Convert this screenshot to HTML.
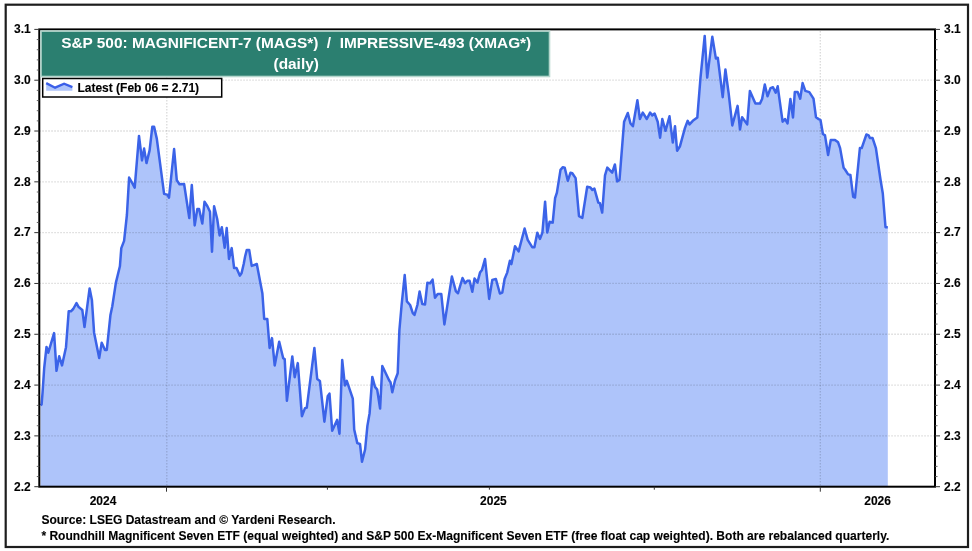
<!DOCTYPE html>
<html><head><meta charset="utf-8"><style>
html,body{margin:0;padding:0;background:#fff;width:972px;height:551px;overflow:hidden;position:relative}
svg{will-change:transform}
text{font-family:"Liberation Sans",sans-serif;font-weight:bold;white-space:pre}
.ax{font-size:12px;fill:#000;stroke:#000;stroke-width:0.12px}
.ti{font-size:15.4px;fill:#fff}
.lg{font-size:12px;fill:#000;stroke:#000;stroke-width:0.12px}
.ft{font-size:12.04px;fill:#000;stroke:#000;stroke-width:0.12px}
</style></head><body>
<svg width="972" height="551" viewBox="0 0 972 551" style="position:absolute;left:0;top:0">
<rect x="5.7" y="4.7" width="962.3" height="542.3" fill="none" stroke="#1e1e1e" stroke-width="2.2"/>
<path d="M40.5,486.7 L40.5,405.3 L41.6,404.5 L42.6,392.0 L44.2,368.0 L46.5,346.9 L48.3,352.7 L54.1,333.1 L56.5,370.8 L59.2,356.3 L62.0,365.4 L66.0,347.2 L68.7,311.3 L70.9,311.3 L73.2,309.0 L76.5,303.1 L78.7,307.1 L82.3,309.9 L84.5,327.1 L89.6,288.4 L91.9,299.9 L94.1,332.7 L99.2,358.1 L101.7,342.7 L105.0,349.9 L106.8,349.9 L110.4,315.3 L112.3,306.2 L115.9,282.6 L119.9,266.3 L121.3,248.1 L124.1,240.9 L126.9,215.0 L129.1,177.6 L132.3,183.1 L134.7,187.6 L139.0,135.9 L142.0,160.4 L144.1,148.6 L146.5,163.1 L149.6,150.4 L152.3,126.8 L154.1,126.8 L156.8,138.6 L164.1,193.9 L167.7,194.9 L169.0,197.6 L174.1,149.1 L176.8,180.3 L179.5,184.3 L184.1,184.0 L189.3,218.1 L191.8,185.0 L194.7,225.4 L197.3,209.1 L199.1,209.1 L202.3,223.6 L204.5,201.8 L207.4,206.3 L210.0,211.8 L212.0,251.7 L214.1,206.3 L217.2,219.0 L219.6,235.4 L221.8,227.2 L224.7,247.7 L226.7,228.1 L229.0,259.0 L231.7,248.1 L234.1,268.0 L236.5,268.0 L239.9,275.7 L241.6,273.0 L243.7,264.0 L245.1,256.5 L246.8,249.9 L249.2,249.9 L251.7,265.9 L256.8,264.0 L262.4,293.6 L264.2,319.0 L267.3,319.0 L269.6,348.0 L272.0,338.1 L274.7,365.4 L279.2,341.7 L283.2,358.2 L284.7,359.1 L286.9,400.8 L292.3,356.4 L294.7,377.2 L297.8,363.1 L301.9,416.2 L305.0,408.1 L306.8,407.7 L314.4,348.0 L317.2,379.0 L319.9,380.9 L324.4,421.7 L327.7,396.3 L329.5,393.6 L332.2,430.8 L337.1,419.9 L339.5,433.8 L342.2,360.0 L344.9,385.4 L346.8,380.9 L352.8,398.6 L354.2,429.5 L357.3,443.1 L360.0,444.0 L362.0,461.8 L365.1,449.5 L367.4,425.9 L369.6,413.2 L372.3,376.9 L375.0,386.9 L377.2,389.6 L380.1,408.6 L382.3,366.0 L389.2,380.5 L390.5,382.3 L392.3,392.3 L395.0,380.5 L397.7,373.3 L399.4,330.0 L401.6,305.0 L404.7,275.1 L406.9,301.4 L410.1,305.0 L412.8,313.2 L414.5,315.0 L417.4,305.0 L419.6,291.4 L422.3,304.1 L425.0,304.5 L427.4,282.7 L430.1,283.2 L432.6,279.6 L435.0,297.8 L437.7,294.1 L441.3,294.1 L444.4,324.4 L451.9,276.5 L455.9,291.4 L458.0,293.2 L462.5,278.0 L465.1,283.1 L467.3,280.8 L469.6,280.8 L472.3,291.7 L474.5,278.6 L477.4,282.6 L480.0,272.6 L482.0,269.9 L485.0,259.0 L489.2,298.9 L492.3,279.9 L495.9,279.0 L499.9,293.5 L502.3,292.6 L504.6,279.0 L507.2,272.6 L509.9,260.8 L511.4,264.1 L515.0,246.3 L518.6,251.4 L524.6,228.5 L527.7,239.9 L532.2,247.2 L534.4,247.2 L537.3,232.7 L540.0,238.9 L542.4,232.6 L545.1,201.7 L547.3,232.6 L549.6,221.7 L552.7,222.6 L555.1,198.1 L556.9,192.6 L560.5,169.9 L562.9,167.2 L564.7,167.6 L567.8,180.8 L570.5,172.7 L572.3,173.2 L575.6,178.1 L579.0,216.2 L582.3,218.0 L587.2,186.8 L590.4,187.5 L592.3,189.9 L594.4,188.6 L598.3,202.6 L599.9,203.2 L602.2,212.6 L605.0,175.4 L607.3,167.6 L612.2,172.7 L614.9,164.5 L617.1,181.4 L619.5,179.9 L624.1,121.7 L627.8,113.0 L630.5,123.5 L632.9,126.2 L637.4,100.3 L639.9,119.0 L642.8,112.6 L646.8,119.0 L650.1,112.6 L652.3,115.4 L654.6,113.5 L657.7,121.7 L660.1,137.7 L662.3,119.0 L665.5,130.8 L669.5,116.3 L672.8,142.6 L675.0,126.2 L677.1,150.7 L680.0,146.2 L684.9,128.1 L687.7,120.8 L689.5,124.4 L692.8,120.8 L697.3,117.6 L700.5,77.6 L704.7,35.9 L707.2,77.6 L712.3,36.8 L715.9,58.6 L717.8,57.7 L720.5,79.4 L722.7,97.2 L725.4,69.5 L728.7,93.6 L732.3,125.4 L737.6,105.9 L740.0,129.5 L742.1,117.2 L747.2,124.4 L749.9,90.9 L755.4,103.6 L759.9,103.6 L762.1,99.0 L764.8,84.5 L767.5,96.3 L770.5,88.1 L773.0,87.2 L775.7,92.7 L777.7,86.3 L782.6,121.7 L785.0,119.0 L787.5,123.5 L790.4,99.0 L793.0,117.5 L794.8,92.1 L797.7,92.1 L800.2,98.7 L802.6,83.1 L805.3,90.9 L809.3,92.1 L813.5,98.7 L816.0,117.3 L818.7,119.1 L820.5,120.0 L822.9,134.0 L825.0,135.4 L828.1,155.0 L830.8,139.9 L835.0,139.9 L838.1,142.3 L840.1,148.1 L843.6,167.7 L845.0,169.5 L848.1,174.4 L850.4,175.0 L853.2,196.8 L855.0,197.5 L859.9,148.1 L861.7,148.1 L866.4,134.5 L868.6,135.4 L870.0,138.1 L872.6,138.1 L875.9,148.1 L880.4,179.0 L882.8,193.5 L885.5,227.2 L887.8,227.2 L887.8,486.7 Z" fill="#aec4fa" stroke="none"/>
<line x1="39.3" y1="80.21" x2="935.0" y2="80.21" stroke="#000" stroke-opacity="0.15" stroke-width="1.3" stroke-dasharray="1.5,1.5"/>
<line x1="39.3" y1="131.02" x2="935.0" y2="131.02" stroke="#000" stroke-opacity="0.15" stroke-width="1.3" stroke-dasharray="1.5,1.5"/>
<line x1="39.3" y1="181.83" x2="935.0" y2="181.83" stroke="#000" stroke-opacity="0.15" stroke-width="1.3" stroke-dasharray="1.5,1.5"/>
<line x1="39.3" y1="232.64" x2="935.0" y2="232.64" stroke="#000" stroke-opacity="0.15" stroke-width="1.3" stroke-dasharray="1.5,1.5"/>
<line x1="39.3" y1="283.46" x2="935.0" y2="283.46" stroke="#000" stroke-opacity="0.15" stroke-width="1.3" stroke-dasharray="1.5,1.5"/>
<line x1="39.3" y1="334.27" x2="935.0" y2="334.27" stroke="#000" stroke-opacity="0.15" stroke-width="1.3" stroke-dasharray="1.5,1.5"/>
<line x1="39.3" y1="385.08" x2="935.0" y2="385.08" stroke="#000" stroke-opacity="0.15" stroke-width="1.3" stroke-dasharray="1.5,1.5"/>
<line x1="39.3" y1="435.89" x2="935.0" y2="435.89" stroke="#000" stroke-opacity="0.15" stroke-width="1.3" stroke-dasharray="1.5,1.5"/>
<line x1="166.8" y1="31" x2="166.8" y2="486.7" stroke="#000" stroke-opacity="0.15" stroke-width="1.3" stroke-dasharray="1.5,1.5"/>
<line x1="820.3" y1="31" x2="820.3" y2="486.7" stroke="#000" stroke-opacity="0.15" stroke-width="1.3" stroke-dasharray="1.5,1.5"/>
<path d="M40.5,405.3 L41.6,404.5 L42.6,392.0 L44.2,368.0 L46.5,346.9 L48.3,352.7 L54.1,333.1 L56.5,370.8 L59.2,356.3 L62.0,365.4 L66.0,347.2 L68.7,311.3 L70.9,311.3 L73.2,309.0 L76.5,303.1 L78.7,307.1 L82.3,309.9 L84.5,327.1 L89.6,288.4 L91.9,299.9 L94.1,332.7 L99.2,358.1 L101.7,342.7 L105.0,349.9 L106.8,349.9 L110.4,315.3 L112.3,306.2 L115.9,282.6 L119.9,266.3 L121.3,248.1 L124.1,240.9 L126.9,215.0 L129.1,177.6 L132.3,183.1 L134.7,187.6 L139.0,135.9 L142.0,160.4 L144.1,148.6 L146.5,163.1 L149.6,150.4 L152.3,126.8 L154.1,126.8 L156.8,138.6 L164.1,193.9 L167.7,194.9 L169.0,197.6 L174.1,149.1 L176.8,180.3 L179.5,184.3 L184.1,184.0 L189.3,218.1 L191.8,185.0 L194.7,225.4 L197.3,209.1 L199.1,209.1 L202.3,223.6 L204.5,201.8 L207.4,206.3 L210.0,211.8 L212.0,251.7 L214.1,206.3 L217.2,219.0 L219.6,235.4 L221.8,227.2 L224.7,247.7 L226.7,228.1 L229.0,259.0 L231.7,248.1 L234.1,268.0 L236.5,268.0 L239.9,275.7 L241.6,273.0 L243.7,264.0 L245.1,256.5 L246.8,249.9 L249.2,249.9 L251.7,265.9 L256.8,264.0 L262.4,293.6 L264.2,319.0 L267.3,319.0 L269.6,348.0 L272.0,338.1 L274.7,365.4 L279.2,341.7 L283.2,358.2 L284.7,359.1 L286.9,400.8 L292.3,356.4 L294.7,377.2 L297.8,363.1 L301.9,416.2 L305.0,408.1 L306.8,407.7 L314.4,348.0 L317.2,379.0 L319.9,380.9 L324.4,421.7 L327.7,396.3 L329.5,393.6 L332.2,430.8 L337.1,419.9 L339.5,433.8 L342.2,360.0 L344.9,385.4 L346.8,380.9 L352.8,398.6 L354.2,429.5 L357.3,443.1 L360.0,444.0 L362.0,461.8 L365.1,449.5 L367.4,425.9 L369.6,413.2 L372.3,376.9 L375.0,386.9 L377.2,389.6 L380.1,408.6 L382.3,366.0 L389.2,380.5 L390.5,382.3 L392.3,392.3 L395.0,380.5 L397.7,373.3 L399.4,330.0 L401.6,305.0 L404.7,275.1 L406.9,301.4 L410.1,305.0 L412.8,313.2 L414.5,315.0 L417.4,305.0 L419.6,291.4 L422.3,304.1 L425.0,304.5 L427.4,282.7 L430.1,283.2 L432.6,279.6 L435.0,297.8 L437.7,294.1 L441.3,294.1 L444.4,324.4 L451.9,276.5 L455.9,291.4 L458.0,293.2 L462.5,278.0 L465.1,283.1 L467.3,280.8 L469.6,280.8 L472.3,291.7 L474.5,278.6 L477.4,282.6 L480.0,272.6 L482.0,269.9 L485.0,259.0 L489.2,298.9 L492.3,279.9 L495.9,279.0 L499.9,293.5 L502.3,292.6 L504.6,279.0 L507.2,272.6 L509.9,260.8 L511.4,264.1 L515.0,246.3 L518.6,251.4 L524.6,228.5 L527.7,239.9 L532.2,247.2 L534.4,247.2 L537.3,232.7 L540.0,238.9 L542.4,232.6 L545.1,201.7 L547.3,232.6 L549.6,221.7 L552.7,222.6 L555.1,198.1 L556.9,192.6 L560.5,169.9 L562.9,167.2 L564.7,167.6 L567.8,180.8 L570.5,172.7 L572.3,173.2 L575.6,178.1 L579.0,216.2 L582.3,218.0 L587.2,186.8 L590.4,187.5 L592.3,189.9 L594.4,188.6 L598.3,202.6 L599.9,203.2 L602.2,212.6 L605.0,175.4 L607.3,167.6 L612.2,172.7 L614.9,164.5 L617.1,181.4 L619.5,179.9 L624.1,121.7 L627.8,113.0 L630.5,123.5 L632.9,126.2 L637.4,100.3 L639.9,119.0 L642.8,112.6 L646.8,119.0 L650.1,112.6 L652.3,115.4 L654.6,113.5 L657.7,121.7 L660.1,137.7 L662.3,119.0 L665.5,130.8 L669.5,116.3 L672.8,142.6 L675.0,126.2 L677.1,150.7 L680.0,146.2 L684.9,128.1 L687.7,120.8 L689.5,124.4 L692.8,120.8 L697.3,117.6 L700.5,77.6 L704.7,35.9 L707.2,77.6 L712.3,36.8 L715.9,58.6 L717.8,57.7 L720.5,79.4 L722.7,97.2 L725.4,69.5 L728.7,93.6 L732.3,125.4 L737.6,105.9 L740.0,129.5 L742.1,117.2 L747.2,124.4 L749.9,90.9 L755.4,103.6 L759.9,103.6 L762.1,99.0 L764.8,84.5 L767.5,96.3 L770.5,88.1 L773.0,87.2 L775.7,92.7 L777.7,86.3 L782.6,121.7 L785.0,119.0 L787.5,123.5 L790.4,99.0 L793.0,117.5 L794.8,92.1 L797.7,92.1 L800.2,98.7 L802.6,83.1 L805.3,90.9 L809.3,92.1 L813.5,98.7 L816.0,117.3 L818.7,119.1 L820.5,120.0 L822.9,134.0 L825.0,135.4 L828.1,155.0 L830.8,139.9 L835.0,139.9 L838.1,142.3 L840.1,148.1 L843.6,167.7 L845.0,169.5 L848.1,174.4 L850.4,175.0 L853.2,196.8 L855.0,197.5 L859.9,148.1 L861.7,148.1 L866.4,134.5 L868.6,135.4 L870.0,138.1 L872.6,138.1 L875.9,148.1 L880.4,179.0 L882.8,193.5 L885.5,227.2 L887.8,227.2" fill="none" stroke="#3b63e8" stroke-width="2.5" stroke-linejoin="round"/>
<rect x="39.3" y="29.4" width="895.7" height="457.3" fill="none" stroke="#000" stroke-width="2"/>
<line x1="34.3" y1="29.40" x2="39.3" y2="29.40" stroke="#333" stroke-width="1"/>
<line x1="935.0" y1="29.40" x2="940.0" y2="29.40" stroke="#333" stroke-width="1"/>
<line x1="36.8" y1="39.56" x2="39.3" y2="39.56" stroke="#555" stroke-width="0.9"/>
<line x1="935.0" y1="39.56" x2="937.5" y2="39.56" stroke="#555" stroke-width="0.9"/>
<line x1="36.8" y1="49.72" x2="39.3" y2="49.72" stroke="#555" stroke-width="0.9"/>
<line x1="935.0" y1="49.72" x2="937.5" y2="49.72" stroke="#555" stroke-width="0.9"/>
<line x1="36.8" y1="59.89" x2="39.3" y2="59.89" stroke="#555" stroke-width="0.9"/>
<line x1="935.0" y1="59.89" x2="937.5" y2="59.89" stroke="#555" stroke-width="0.9"/>
<line x1="36.8" y1="70.05" x2="39.3" y2="70.05" stroke="#555" stroke-width="0.9"/>
<line x1="935.0" y1="70.05" x2="937.5" y2="70.05" stroke="#555" stroke-width="0.9"/>
<text x="30.8" y="33.20" text-anchor="end" class="ax">3.1</text>
<text x="944" y="33.20" class="ax">3.1</text>
<line x1="34.3" y1="80.21" x2="39.3" y2="80.21" stroke="#333" stroke-width="1"/>
<line x1="935.0" y1="80.21" x2="940.0" y2="80.21" stroke="#333" stroke-width="1"/>
<line x1="36.8" y1="90.37" x2="39.3" y2="90.37" stroke="#555" stroke-width="0.9"/>
<line x1="935.0" y1="90.37" x2="937.5" y2="90.37" stroke="#555" stroke-width="0.9"/>
<line x1="36.8" y1="100.54" x2="39.3" y2="100.54" stroke="#555" stroke-width="0.9"/>
<line x1="935.0" y1="100.54" x2="937.5" y2="100.54" stroke="#555" stroke-width="0.9"/>
<line x1="36.8" y1="110.70" x2="39.3" y2="110.70" stroke="#555" stroke-width="0.9"/>
<line x1="935.0" y1="110.70" x2="937.5" y2="110.70" stroke="#555" stroke-width="0.9"/>
<line x1="36.8" y1="120.86" x2="39.3" y2="120.86" stroke="#555" stroke-width="0.9"/>
<line x1="935.0" y1="120.86" x2="937.5" y2="120.86" stroke="#555" stroke-width="0.9"/>
<text x="30.8" y="84.01" text-anchor="end" class="ax">3.0</text>
<text x="944" y="84.01" class="ax">3.0</text>
<line x1="34.3" y1="131.02" x2="39.3" y2="131.02" stroke="#333" stroke-width="1"/>
<line x1="935.0" y1="131.02" x2="940.0" y2="131.02" stroke="#333" stroke-width="1"/>
<line x1="36.8" y1="141.18" x2="39.3" y2="141.18" stroke="#555" stroke-width="0.9"/>
<line x1="935.0" y1="141.18" x2="937.5" y2="141.18" stroke="#555" stroke-width="0.9"/>
<line x1="36.8" y1="151.35" x2="39.3" y2="151.35" stroke="#555" stroke-width="0.9"/>
<line x1="935.0" y1="151.35" x2="937.5" y2="151.35" stroke="#555" stroke-width="0.9"/>
<line x1="36.8" y1="161.51" x2="39.3" y2="161.51" stroke="#555" stroke-width="0.9"/>
<line x1="935.0" y1="161.51" x2="937.5" y2="161.51" stroke="#555" stroke-width="0.9"/>
<line x1="36.8" y1="171.67" x2="39.3" y2="171.67" stroke="#555" stroke-width="0.9"/>
<line x1="935.0" y1="171.67" x2="937.5" y2="171.67" stroke="#555" stroke-width="0.9"/>
<text x="30.8" y="134.82" text-anchor="end" class="ax">2.9</text>
<text x="944" y="134.82" class="ax">2.9</text>
<line x1="34.3" y1="181.83" x2="39.3" y2="181.83" stroke="#333" stroke-width="1"/>
<line x1="935.0" y1="181.83" x2="940.0" y2="181.83" stroke="#333" stroke-width="1"/>
<line x1="36.8" y1="192.00" x2="39.3" y2="192.00" stroke="#555" stroke-width="0.9"/>
<line x1="935.0" y1="192.00" x2="937.5" y2="192.00" stroke="#555" stroke-width="0.9"/>
<line x1="36.8" y1="202.16" x2="39.3" y2="202.16" stroke="#555" stroke-width="0.9"/>
<line x1="935.0" y1="202.16" x2="937.5" y2="202.16" stroke="#555" stroke-width="0.9"/>
<line x1="36.8" y1="212.32" x2="39.3" y2="212.32" stroke="#555" stroke-width="0.9"/>
<line x1="935.0" y1="212.32" x2="937.5" y2="212.32" stroke="#555" stroke-width="0.9"/>
<line x1="36.8" y1="222.48" x2="39.3" y2="222.48" stroke="#555" stroke-width="0.9"/>
<line x1="935.0" y1="222.48" x2="937.5" y2="222.48" stroke="#555" stroke-width="0.9"/>
<text x="30.8" y="185.63" text-anchor="end" class="ax">2.8</text>
<text x="944" y="185.63" class="ax">2.8</text>
<line x1="34.3" y1="232.64" x2="39.3" y2="232.64" stroke="#333" stroke-width="1"/>
<line x1="935.0" y1="232.64" x2="940.0" y2="232.64" stroke="#333" stroke-width="1"/>
<line x1="36.8" y1="242.81" x2="39.3" y2="242.81" stroke="#555" stroke-width="0.9"/>
<line x1="935.0" y1="242.81" x2="937.5" y2="242.81" stroke="#555" stroke-width="0.9"/>
<line x1="36.8" y1="252.97" x2="39.3" y2="252.97" stroke="#555" stroke-width="0.9"/>
<line x1="935.0" y1="252.97" x2="937.5" y2="252.97" stroke="#555" stroke-width="0.9"/>
<line x1="36.8" y1="263.13" x2="39.3" y2="263.13" stroke="#555" stroke-width="0.9"/>
<line x1="935.0" y1="263.13" x2="937.5" y2="263.13" stroke="#555" stroke-width="0.9"/>
<line x1="36.8" y1="273.29" x2="39.3" y2="273.29" stroke="#555" stroke-width="0.9"/>
<line x1="935.0" y1="273.29" x2="937.5" y2="273.29" stroke="#555" stroke-width="0.9"/>
<text x="30.8" y="236.44" text-anchor="end" class="ax">2.7</text>
<text x="944" y="236.44" class="ax">2.7</text>
<line x1="34.3" y1="283.46" x2="39.3" y2="283.46" stroke="#333" stroke-width="1"/>
<line x1="935.0" y1="283.46" x2="940.0" y2="283.46" stroke="#333" stroke-width="1"/>
<line x1="36.8" y1="293.62" x2="39.3" y2="293.62" stroke="#555" stroke-width="0.9"/>
<line x1="935.0" y1="293.62" x2="937.5" y2="293.62" stroke="#555" stroke-width="0.9"/>
<line x1="36.8" y1="303.78" x2="39.3" y2="303.78" stroke="#555" stroke-width="0.9"/>
<line x1="935.0" y1="303.78" x2="937.5" y2="303.78" stroke="#555" stroke-width="0.9"/>
<line x1="36.8" y1="313.94" x2="39.3" y2="313.94" stroke="#555" stroke-width="0.9"/>
<line x1="935.0" y1="313.94" x2="937.5" y2="313.94" stroke="#555" stroke-width="0.9"/>
<line x1="36.8" y1="324.10" x2="39.3" y2="324.10" stroke="#555" stroke-width="0.9"/>
<line x1="935.0" y1="324.10" x2="937.5" y2="324.10" stroke="#555" stroke-width="0.9"/>
<text x="30.8" y="287.26" text-anchor="end" class="ax">2.6</text>
<text x="944" y="287.26" class="ax">2.6</text>
<line x1="34.3" y1="334.27" x2="39.3" y2="334.27" stroke="#333" stroke-width="1"/>
<line x1="935.0" y1="334.27" x2="940.0" y2="334.27" stroke="#333" stroke-width="1"/>
<line x1="36.8" y1="344.43" x2="39.3" y2="344.43" stroke="#555" stroke-width="0.9"/>
<line x1="935.0" y1="344.43" x2="937.5" y2="344.43" stroke="#555" stroke-width="0.9"/>
<line x1="36.8" y1="354.59" x2="39.3" y2="354.59" stroke="#555" stroke-width="0.9"/>
<line x1="935.0" y1="354.59" x2="937.5" y2="354.59" stroke="#555" stroke-width="0.9"/>
<line x1="36.8" y1="364.75" x2="39.3" y2="364.75" stroke="#555" stroke-width="0.9"/>
<line x1="935.0" y1="364.75" x2="937.5" y2="364.75" stroke="#555" stroke-width="0.9"/>
<line x1="36.8" y1="374.92" x2="39.3" y2="374.92" stroke="#555" stroke-width="0.9"/>
<line x1="935.0" y1="374.92" x2="937.5" y2="374.92" stroke="#555" stroke-width="0.9"/>
<text x="30.8" y="338.07" text-anchor="end" class="ax">2.5</text>
<text x="944" y="338.07" class="ax">2.5</text>
<line x1="34.3" y1="385.08" x2="39.3" y2="385.08" stroke="#333" stroke-width="1"/>
<line x1="935.0" y1="385.08" x2="940.0" y2="385.08" stroke="#333" stroke-width="1"/>
<line x1="36.8" y1="395.24" x2="39.3" y2="395.24" stroke="#555" stroke-width="0.9"/>
<line x1="935.0" y1="395.24" x2="937.5" y2="395.24" stroke="#555" stroke-width="0.9"/>
<line x1="36.8" y1="405.40" x2="39.3" y2="405.40" stroke="#555" stroke-width="0.9"/>
<line x1="935.0" y1="405.40" x2="937.5" y2="405.40" stroke="#555" stroke-width="0.9"/>
<line x1="36.8" y1="415.56" x2="39.3" y2="415.56" stroke="#555" stroke-width="0.9"/>
<line x1="935.0" y1="415.56" x2="937.5" y2="415.56" stroke="#555" stroke-width="0.9"/>
<line x1="36.8" y1="425.73" x2="39.3" y2="425.73" stroke="#555" stroke-width="0.9"/>
<line x1="935.0" y1="425.73" x2="937.5" y2="425.73" stroke="#555" stroke-width="0.9"/>
<text x="30.8" y="388.88" text-anchor="end" class="ax">2.4</text>
<text x="944" y="388.88" class="ax">2.4</text>
<line x1="34.3" y1="435.89" x2="39.3" y2="435.89" stroke="#333" stroke-width="1"/>
<line x1="935.0" y1="435.89" x2="940.0" y2="435.89" stroke="#333" stroke-width="1"/>
<line x1="36.8" y1="446.05" x2="39.3" y2="446.05" stroke="#555" stroke-width="0.9"/>
<line x1="935.0" y1="446.05" x2="937.5" y2="446.05" stroke="#555" stroke-width="0.9"/>
<line x1="36.8" y1="456.21" x2="39.3" y2="456.21" stroke="#555" stroke-width="0.9"/>
<line x1="935.0" y1="456.21" x2="937.5" y2="456.21" stroke="#555" stroke-width="0.9"/>
<line x1="36.8" y1="466.38" x2="39.3" y2="466.38" stroke="#555" stroke-width="0.9"/>
<line x1="935.0" y1="466.38" x2="937.5" y2="466.38" stroke="#555" stroke-width="0.9"/>
<line x1="36.8" y1="476.54" x2="39.3" y2="476.54" stroke="#555" stroke-width="0.9"/>
<line x1="935.0" y1="476.54" x2="937.5" y2="476.54" stroke="#555" stroke-width="0.9"/>
<text x="30.8" y="439.69" text-anchor="end" class="ax">2.3</text>
<text x="944" y="439.69" class="ax">2.3</text>
<line x1="34.3" y1="486.70" x2="39.3" y2="486.70" stroke="#333" stroke-width="1"/>
<line x1="935.0" y1="486.70" x2="940.0" y2="486.70" stroke="#333" stroke-width="1"/>
<text x="30.8" y="490.50" text-anchor="end" class="ax">2.2</text>
<text x="944" y="490.50" class="ax">2.2</text>
<line x1="166.5" y1="486.7" x2="166.5" y2="491.7" stroke="#333" stroke-width="1"/>
<line x1="327.4" y1="486.7" x2="327.4" y2="489.7" stroke="#333" stroke-width="1"/>
<line x1="489.4" y1="486.7" x2="489.4" y2="489.7" stroke="#333" stroke-width="1"/>
<line x1="654.3" y1="486.7" x2="654.3" y2="489.7" stroke="#333" stroke-width="1"/>
<line x1="820.3" y1="486.7" x2="820.3" y2="491.7" stroke="#333" stroke-width="1"/>
<text x="103" y="504.6" text-anchor="middle" class="ax">2024</text>
<text x="493.4" y="504.6" text-anchor="middle" class="ax">2025</text>
<text x="877.6" y="504.6" text-anchor="middle" class="ax">2026</text>
<rect x="41" y="31.1" width="508.5" height="45.4" fill="#2b7f70" stroke="#b4d6cd" stroke-width="1.6"/>
<text x="296.2" y="48.2" text-anchor="middle" class="ti">S&amp;P 500: MAGNIFICENT-7 (MAGS*)  /  IMPRESSIVE-493 (XMAG*)</text>
<text x="296.2" y="68.7" text-anchor="middle" class="ti">(daily)</text>
<rect x="42.7" y="78.5" width="179" height="18.5" fill="#fff" stroke="#000" stroke-width="1.5"/>
<path d="M46.2,83.1 L55.1,87.7 L64.1,83.7 L72.4,87.1 L72.4,90.8 L46.2,90.8 Z" fill="#aec4fa"/>
<path d="M46.2,83.1 L55.1,87.7 L64.1,83.7 L72.4,87.1" fill="none" stroke="#3a5ee8" stroke-width="2.4"/>
<text x="77.4" y="92" class="lg">Latest (Feb 06 = 2.71)</text>
<text x="41.4" y="523.7" class="ft">Source: LSEG Datastream and © Yardeni Research.</text>
<text x="41.4" y="540" class="ft">* Roundhill Magnificent Seven ETF (equal weighted) and S&amp;P 500 Ex-Magnificent Seven ETF (free float cap weighted). Both are rebalanced quarterly.</text>
</svg>
</body></html>
